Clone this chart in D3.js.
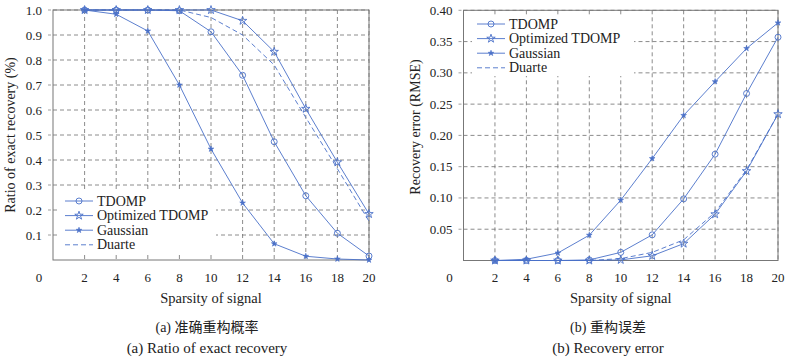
<!DOCTYPE html>
<html lang="en">
<head>
<meta charset="utf-8">
<script src="https://cdn.jsdelivr.net/npm/d3@7"></script>
<style>
  body { margin: 0; background: #fff; }
  text { font-family: "Liberation Serif", serif; fill: #222; }
</style>
</head>
<body>
<script>
// sparsity levels (x)
var sparsity = [2, 4, 6, 8, 10, 12, 14, 16, 18, 20];

// (a) ratio of exact recovery
var ratioTDOMP = [1.0, 1.0, 1.0, 0.997, 0.913, 0.739, 0.473, 0.257, 0.107, 0.016];
var ratioOpt   = [1.0, 1.0, 1.0, 1.0, 1.0, 0.957, 0.833, 0.605, 0.391, 0.184];
var ratioGauss = [1.0, 0.983, 0.916, 0.70, 0.444, 0.228, 0.065, 0.015, 0.004, 0.0];
var ratioDuarte= [1.0, 1.0, 1.0, 1.0, 0.97, 0.90, 0.78, 0.57, 0.365, 0.155];

// (b) recovery error (RMSE)
var errTDOMP  = [0.0, 0.0, 0.0, 0.001, 0.013, 0.041, 0.0985, 0.170, 0.267, 0.357];
var errOpt    = [0.0, 0.0, 0.0, 0.0, 0.001, 0.0075, 0.027, 0.074, 0.143, 0.234];
var errGauss  = [0.0, 0.002, 0.012, 0.0405, 0.0965, 0.163, 0.232, 0.286, 0.339, 0.380];
var errDuarte = [0.0, 0.0, 0.0, 0.0, 0.003, 0.013, 0.033, 0.077, 0.145, 0.234];

var seriesNames = ["TDOMP", "Optimized TDOMP", "Gaussian", "Duarte"];
var markers = ["circle", "star", "asterisk", "none"];

var yTicksA = [0.1, 0.2, 0.3, 0.4, 0.5, 0.6, 0.7, 0.8, 0.9, 1.0];
var yTicksB = [0.05, 0.10, 0.15, 0.20, 0.25, 0.30, 0.35, 0.40];

var blue = "#4a70c8";
var gridColor = "#6e6e6e";

var svg = d3.select("body").append("svg")
    .attr("width", 794)
    .attr("height", 361);

function drawPanel(opt) {
    var x = d3.scaleLinear().domain([0, 20]).range([opt.left, opt.right]);
    var y = d3.scaleLinear().domain([0, opt.yMax]).range([opt.bottom, opt.top]);
    var g = svg.append("g");

    // grid
    g.selectAll(".gx").data(sparsity).enter().append("line")
        .attr("x1", d => x(d)).attr("x2", d => x(d))
        .attr("y1", opt.top).attr("y2", opt.bottom)
        .attr("stroke", gridColor).attr("stroke-width", 0.8)
        .attr("stroke-dasharray", "4,3");
    g.selectAll(".gy").data(opt.yTicks).enter().append("line")
        .attr("x1", opt.left).attr("x2", opt.right)
        .attr("y1", d => y(d)).attr("y2", d => y(d))
        .attr("stroke", gridColor).attr("stroke-width", 0.8)
        .attr("stroke-dasharray", "4,3");

    // small outward ticks on the y axis
    g.selectAll(".yk").data(opt.yTicks).enter().append("line")
        .attr("x1", opt.left - 5).attr("x2", opt.left - 2)
        .attr("y1", d => y(d)).attr("y2", d => y(d))
        .attr("stroke", "#888").attr("stroke-width", 0.8);

    // legend background (hides grid)
    var lg = opt.legend;
    g.append("rect")
        .attr("x", lg.x).attr("y", lg.y)
        .attr("width", lg.w).attr("height", lg.h)
        .attr("fill", "#fff");

    // frame
    g.append("rect")
        .attr("x", opt.left).attr("y", opt.top)
        .attr("width", opt.right - opt.left).attr("height", opt.bottom - opt.top)
        .attr("fill", "none").attr("stroke", "#777").attr("stroke-width", 1);

    // tick labels
    g.selectAll(".xt").data(sparsity).enter().append("text")
        .attr("x", d => x(d)).attr("y", 281.5)
        .attr("text-anchor", "middle").attr("font-size", 13)
        .text(d => d);
    g.append("text")
        .attr("x", opt.left - 14).attr("y", 281.5)
        .attr("text-anchor", "middle").attr("font-size", 13)
        .text("0");
    g.selectAll(".yt").data(opt.yTicks).enter().append("text")
        .attr("x", opt.left - 11).attr("y", d => y(d) + 4.5)
        .attr("text-anchor", "end").attr("font-size", 13)
        .text(d => d.toFixed(opt.dec));

    // axis labels
    g.append("text")
        .attr("x", (opt.left + opt.right) / 2).attr("y", 303)
        .attr("text-anchor", "middle").attr("font-size", 14.5)
        .text("Sparsity of signal");
    g.append("text")
        .attr("transform", "translate(" + opt.yLabelX + "," + opt.yLabelY + ") rotate(-90)")
        .attr("text-anchor", "middle").attr("font-size", 14)
        .text(opt.yLabel);

    // captions
    var cx = opt.captionX;
    g.append("text")
        .attr("x", cx).attr("y", 332)
        .attr("text-anchor", "middle").attr("font-size", 14)
        .style("font-family", "'Liberation Serif', 'Noto Sans CJK SC', serif")
        .text(opt.caption1);
    g.append("text")
        .attr("x", cx).attr("y", 353)
        .attr("text-anchor", "middle").attr("font-size", 15)
        .text(opt.caption2);

    // series
    var line = d3.line().x((d, i) => x(sparsity[i])).y(d => y(d));
    opt.series.forEach(function(vals, k) {
        g.append("path").datum(vals)
            .attr("d", line)
            .attr("fill", "none").attr("stroke", blue).attr("stroke-width", 0.9)
            .attr("stroke-dasharray", markers[k] === "none" ? "5,3" : null);
        vals.forEach(function(v, i) {
            drawMarker(g, markers[k], x(sparsity[i]), y(v));
        });
    });

    // legend entries
    seriesNames.forEach(function(name, k) {
        var ly = lg.row0 + k * lg.step;
        g.append("line")
            .attr("x1", lg.x + 5).attr("x2", lg.x + 33)
            .attr("y1", ly).attr("y2", ly)
            .attr("stroke", blue).attr("stroke-width", 0.9)
            .attr("stroke-dasharray", markers[k] === "none" ? "5,3" : null);
        drawMarker(g, markers[k], lg.x + 19, ly);
        g.append("text")
            .attr("x", lg.x + 37).attr("y", ly + 4.6)
            .attr("font-size", 14)
            .text(name);
    });
}

function drawMarker(g, type, cx, cy) {
    if (type === "circle") {
        g.append("circle").attr("cx", cx).attr("cy", cy).attr("r", 3)
            .attr("fill", "none").attr("stroke", blue).attr("stroke-width", 0.9);
    } else if (type === "star") {
        g.append("path")
            .attr("d", d3.symbol().type(d3.symbolStar).size(22)())
            .attr("transform", "translate(" + cx + "," + cy + ")")
            .attr("fill", "none").attr("stroke", blue).attr("stroke-width", 0.9);
    } else if (type === "asterisk") {
        g.append("path")
            .attr("d", d3.symbol().type(d3.symbolStar).size(10)())
            .attr("transform", "translate(" + cx + "," + cy + ")")
            .attr("fill", blue).attr("stroke", blue).attr("stroke-width", 0.6);
    }
}

drawPanel({
    left: 53, right: 369, top: 10, bottom: 260,
    yMax: 1.0, yTicks: yTicksA, dec: 1,
    yLabel: "Ratio of exact recovery (%)", yLabelX: 15, yLabelY: 135,
    caption1: "(a) 准确重构概率", caption2: "(a) Ratio of exact recovery", captionX: 207,
    series: [ratioTDOMP, ratioOpt, ratioGauss, ratioDuarte],
    legend: { x: 60, y: 192, w: 156, h: 61, row0: 201, step: 14.6 }
});

drawPanel({
    left: 463.5, right: 778, top: 10.3, bottom: 260.5,
    yMax: 0.40, yTicks: yTicksB, dec: 2,
    yLabel: "Recovery error (RMSE)", yLabelX: 420, yLabelY: 127,
    caption1: "(b) 重构误差", caption2: "(b) Recovery error", captionX: 608,
    series: [errTDOMP, errOpt, errGauss, errDuarte],
    legend: { x: 472, y: 15, w: 162, h: 61, row0: 24, step: 14.6 }
});
</script>
</body>
</html>
